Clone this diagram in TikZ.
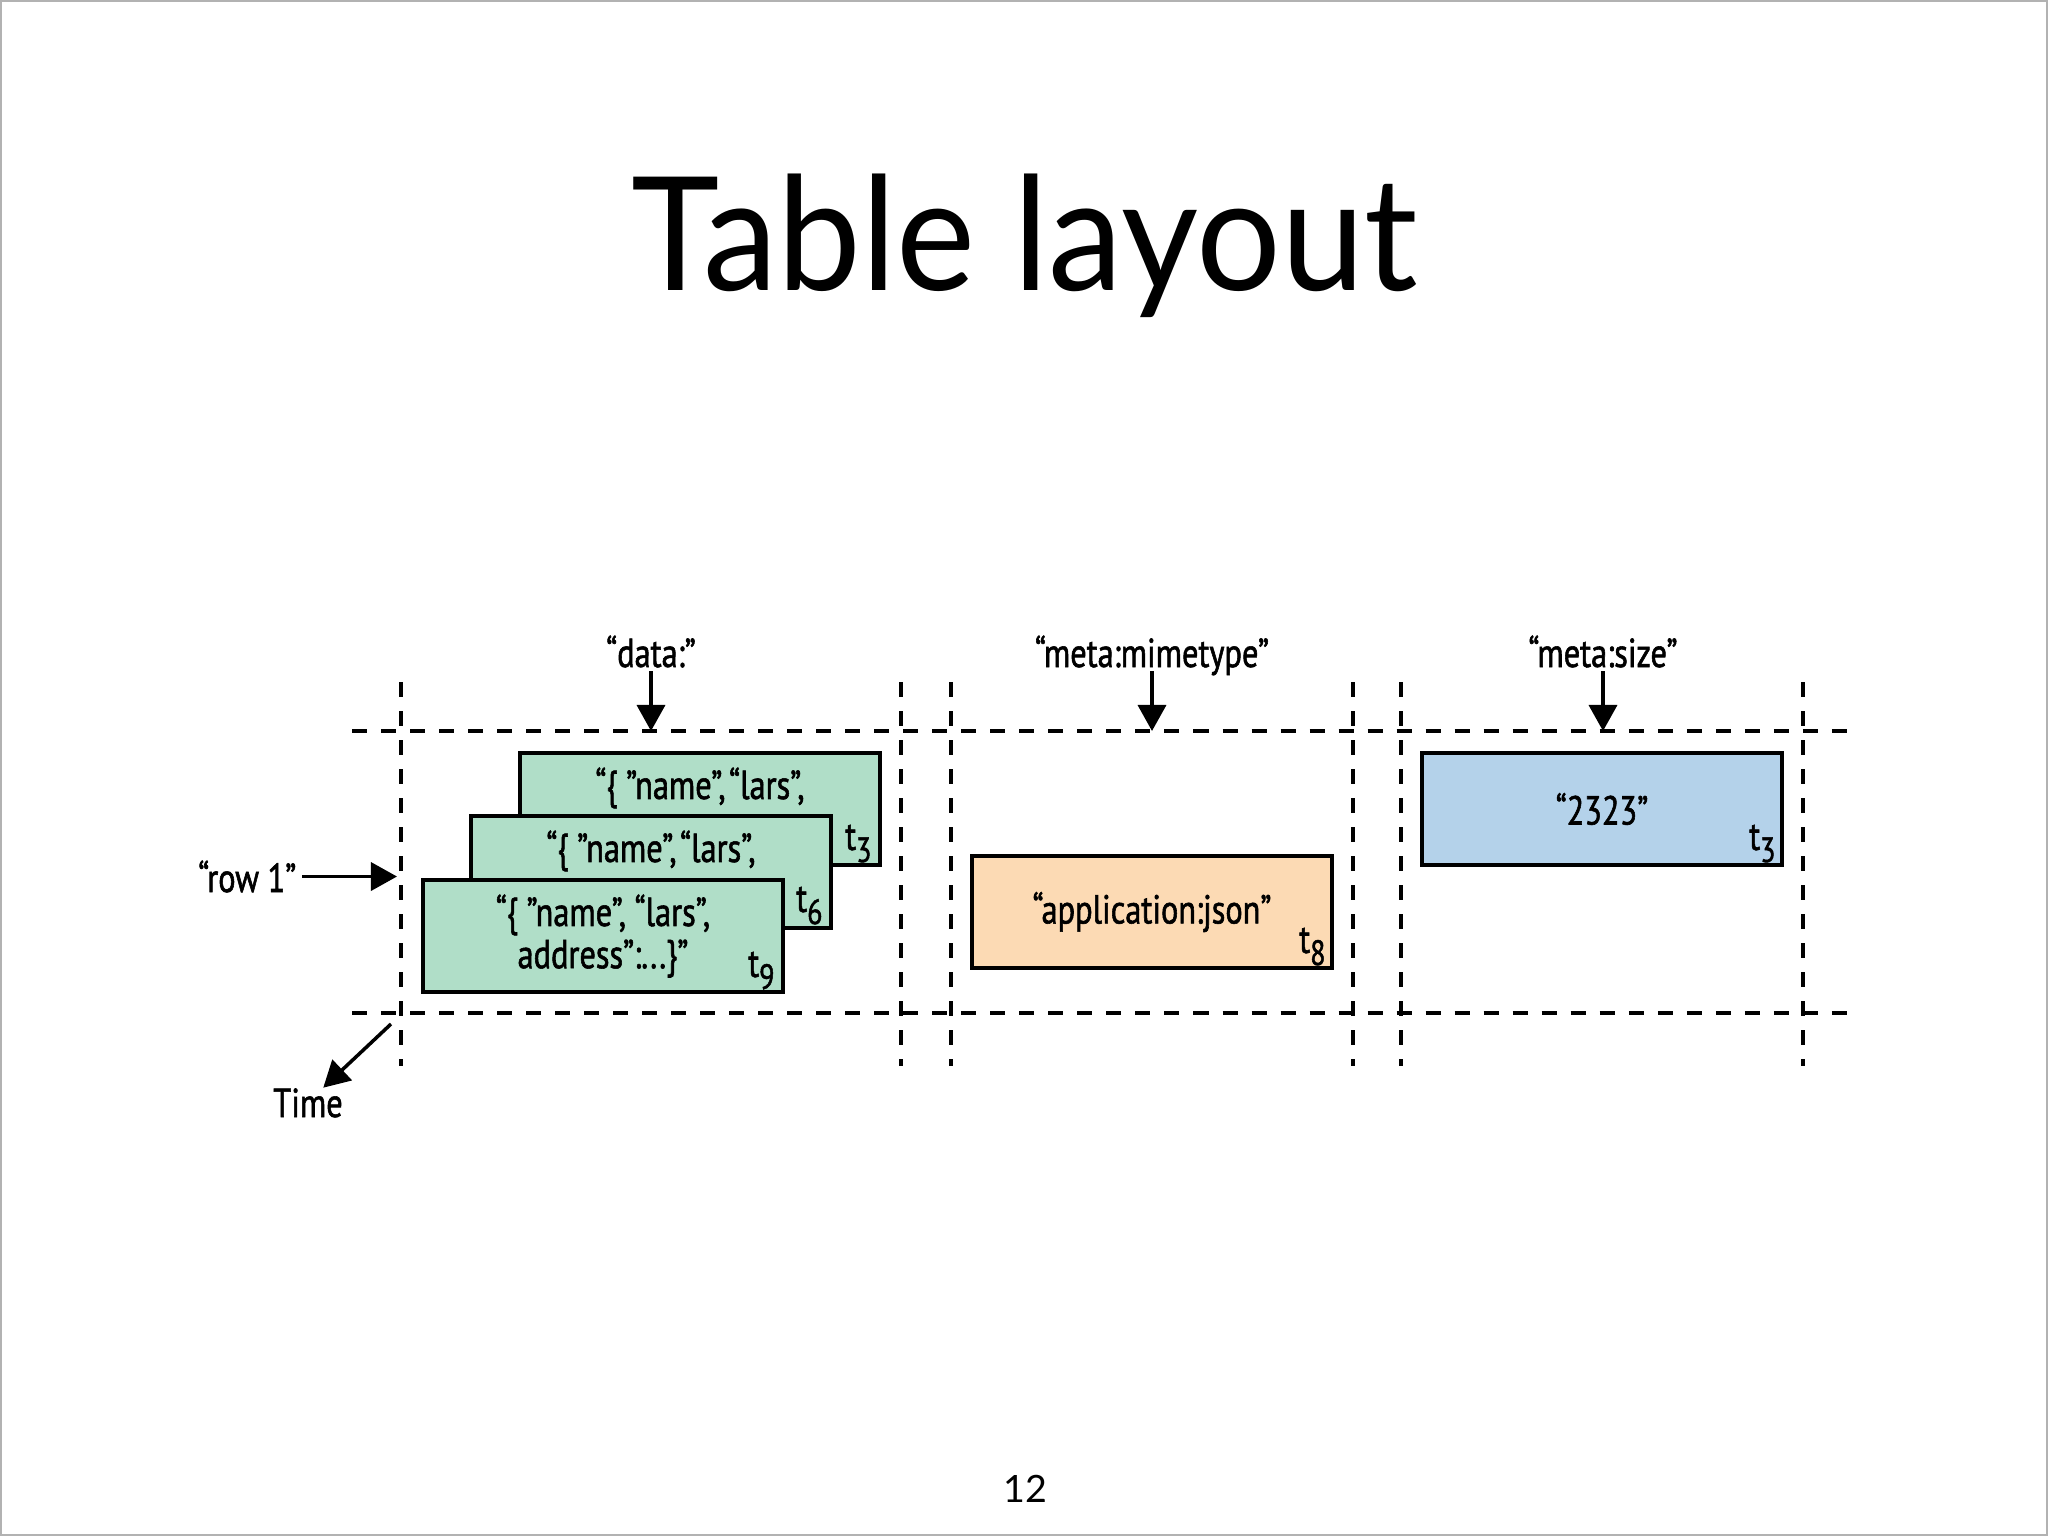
\documentclass[tikz,border=0pt]{standalone}
\usepackage{fontspec}
\setmainfont{Lato}
\newfontfamily\titlefont[FakeStretch=0.945]{Lato}
\newfontfamily\cellfont[FakeStretch=0.8, FakeBold=1.4]{PT Sans}
\usetikzlibrary{positioning, calc, arrows.meta}
\definecolor{cellgreen}{RGB}{176,222,200}
\definecolor{cellorange}{RGB}{252,218,180}
\definecolor{cellblue}{RGB}{180,210,234}
\newcommand\tstamp[1]{t\raisebox{-0.3em}{\fontsize{10}{10}\selectfont #1}}

\begin{document}
\begin{tikzpicture}[x=0.01cm, y=-0.01cm, >={Triangle[width=2.8mm,length=2.6mm]},
    grid/.style={line width=1.15pt, dash pattern=on 1.5mm off 1.4mm},
    cell/.style={rectangle, draw, line width=1.2pt, minimum width=3.6cm,
      minimum height=1.12cm, inner sep=0pt, align=center,
      font=\cellfont\fontsize{11.5}{12}\selectfont},
    stamp/.style={anchor=south east, inner sep=0pt, font=\cellfont\fontsize{11.5}{12}\selectfont},
    head/.style={anchor=base, inner sep=0pt, font=\cellfont\fontsize{11.5}{12}\selectfont},
    arr/.style={->, line width=1pt}]

  \useasboundingbox (0,0) rectangle (2048,1536);
  \draw[gray!60, line width=0.7pt] (1,1) rectangle (2047,1535);

  \node[anchor=base, font=\titlefont\fontsize{45}{50}\selectfont] (title) at (1025,290) {Table layout};
  \node[anchor=base, font=\fontsize{10.7}{12}\selectfont] (page) at (1025,1502) {12};

  \coordinate (top) at (352,731);
  \coordinate (bot) at (352,1013);
  \draw[grid] (top) -- (1853,731);
  \draw[grid] (bot) -- (1853,1013);
  \foreach \x in {401,901,951,1353,1401,1803}
    \draw[grid] (\x,682) -- (\x,1066);

  \node[cell, fill=cellgreen] (A) at (700,809) {“\{ ”name”,\kern1pt“lars”,\\\phantom{address”:...\}”}};
  \node[stamp] (A3) at ([shift={(-10,-4)}]A.south east) {\tstamp{3}};
  \node[cell, fill=cellgreen] (B) at (651,872) {“\{ ”name”,\kern1pt“lars”,\\\phantom{address”:...\}”}};
  \node[stamp] (B6) at ([shift={(-10,-5)}]B.south east) {\tstamp{6}};
  \node[cell, fill=cellgreen] (C) at (603,936) {“\{ ”name”, “lars”,\\address”:...\}”};
  \node[stamp] (C9) at ([shift={(-10,-4)}]C.south east) {\tstamp{9}};

  \node[cell, fill=cellorange] (M) at (1152,912) {“application:json”};
  \node[stamp] (M8) at ([shift={(-8,-4)}]M.south east) {\tstamp{8}};
  \node[cell, fill=cellblue] (S) at (1602,809) {“2323”};
  \node[stamp] (S3) at ([shift={(-8,-4)}]S.south east) {\tstamp{3}};

  \node[head] (H1) at (651,667) {“data:”};
  \node[head] (H2) at (1152,667) {“meta:mimetype”};
  \node[head] (H3) at (1603,667) {“meta:size”};
  \foreach \h in {H1,H2,H3}
    \draw[arr, shorten <=0.4mm] (\h.base) -- (\h.base |- top);

  \node[head, anchor=base east] (R) at (297,892) {“row 1”};
  \coordinate (rt) at (397,880);
  \draw[arr, shorten <=0.5mm] (R.east) -- (R.east -| rt);

  \node[head] (T) at (308,1117) {Time};
  \coordinate (ts) at (391,1024);
  \draw[arr] (ts) -- (T.45);
\end{tikzpicture}
\end{document}
